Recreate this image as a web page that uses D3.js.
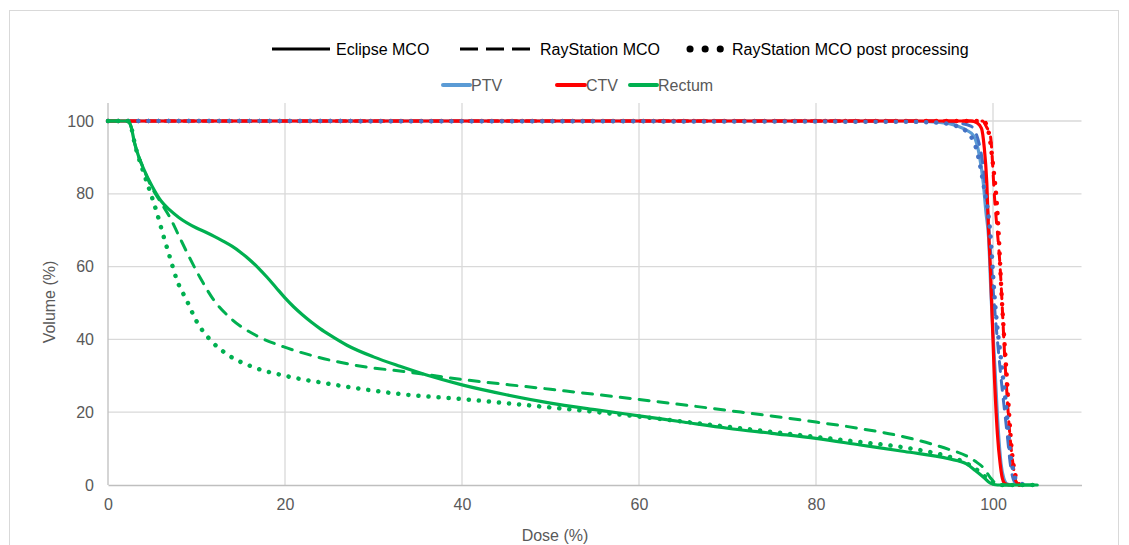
<!DOCTYPE html>
<html>
<head>
<meta charset="utf-8">
<script src="https://cdn.jsdelivr.net/npm/d3@7"></script>
<style>
  body { margin: 0; background: #fff; }
  text { font-family: "Liberation Sans", Arial, sans-serif; }
</style>
</head>
<body>
<div id="chart"></div>
<script>
// dose (%) , volume (%) pairs
let ptvEclipse = [[0,100],[90,100],[94,99.6],[96,98.6],[97,97.5],[97.8,96],[98.5,90],[98.9,83],[99.2,75],[99.5,68],[99.8,51],[100.2,33],[100.6,15],[100.9,6],[101.2,2],[101.6,0.3],[102.2,0]]
let ctvEclipse = [[0,100],[97.5,100],[98.2,99.5],[98.7,98],[99,93],[99.3,83],[99.5,70],[99.7,60],[100.1,33],[100.5,14],[100.8,6],[101,2.5],[101.3,0.5],[101.8,0]]
let rectumEclipse = [[0,100],[2.2,100],[2.6,98.5],[3,94],[3.5,90],[4,87],[5,82],[6,78],[7,75.5],[8,73.5],[10,70.6],[11,69.5],[12,68.3],[13,67],[14,65.6],[15,63.9],[16,61.9],[17,59.6],[18,57],[19,54.2],[20,51.4],[21,48.9],[22,46.7],[23,44.7],[24,42.9],[25,41.3],[27,38.4],[30,35.2],[33,32.6],[36,30.2],[40,27.5],[45,24.8],[50,22.5],[55,20.7],[60,19],[65,17.3],[70,15.6],[75,14.2],[80,12.8],[85,11],[90,9.2],[95,7.2],[97,5.8],[98,4],[99,2],[99.7,0.5],[100.5,0],[105,0]]

let ptvRay = [[0,100],[94,100],[96,99.5],[97.5,98.6],[98.6,92],[99.3,78],[100.1,51],[100.8,32],[101.6,14],[102,5],[102.4,1],[103,0]]
let ctvRay = [[0,100],[98.8,100],[99.3,98.2],[99.7,96],[100.2,78],[100.8,60],[101.4,32],[101.9,14],[102.3,5],[102.6,1],[103,0]]
let rectumRay = [[0,100],[2.2,100],[2.6,98.5],[3,94],[4,87],[5,81.5],[6,77.5],[7,73.5],[8,68.5],[9,63.5],[10.4,57],[11.9,51],[14,45.5],[16.8,41],[19.8,38],[23.6,35.2],[29.2,32.4],[33,31.3],[40,29],[50,26.3],[60,23.5],[70,20.5],[80,17.3],[85,15.5],[90,13.2],[93,11.3],[95,9.8],[97,8],[98,6.5],[99,4.5],[99.7,2],[100.3,0.5],[101,0],[105,0]]

let ptvPost = [[0,100],[90,99.8],[94,99.5],[96.3,98.2],[97.8,94.5],[98.9,83],[99.7,69],[100.2,51],[101,32.4],[101.6,18.7],[101.9,9.6],[102.3,4],[102.6,1.4],[103.6,0]]
let ctvPost = [[0,100],[98.9,100],[99.5,97],[100,88],[100.5,75],[101,51],[101.6,28],[102.1,10],[102.5,3],[103,0]]
let rectumPost = [[0,100],[2.2,100],[2.6,98.5],[3,94],[4,86],[4.7,81],[5.5,75],[6.2,69],[7,62.5],[7.8,56.2],[8.9,50.7],[10,45],[11.5,40],[13.4,36],[16.4,32.4],[20.2,29.9],[24.7,27.9],[29.2,26.2],[32.6,25.1],[40,23.6],[50,21.3],[60,18.8],[70,16],[80,13.2],[85,11.8],[90,10.3],[93,9],[95,7.8],[97,6],[98,4.5],[99,2.5],[99.7,1],[100.5,0],[105,0]]

let xTicks = [0, 20, 40, 60, 80, 100]
let yTicks = [0, 20, 40, 60, 80, 100]
let methods = ["Eclipse MCO", "RayStation MCO", "RayStation MCO post processing"]
let structures = ["PTV", "CTV", "Rectum"]

let width = 1129
let height = 545
let margin = { top: 103, right: 47, bottom: 60, left: 108 }

let colors = { PTV: '#5b9bd5', CTV: '#ff0000', Rectum: '#00b050' }
let darkBlue = '#4472c4'

// drawing order: blue dots end up on top of the red 100% line, rectum last
let series = [
  { s: "PTV", m: 0, data: ptvEclipse },
  { s: "PTV", m: 1, data: ptvRay },
  { s: "CTV", m: 0, data: ctvEclipse },
  { s: "CTV", m: 1, data: ctvRay },
  { s: "CTV", m: 2, data: ctvPost },
  { s: "PTV", m: 2, data: ptvPost },
  { s: "Rectum", m: 2, data: rectumPost },
  { s: "Rectum", m: 1, data: rectumRay },
  { s: "Rectum", m: 0, data: rectumEclipse }
]

let x = d3.scaleLinear()
    .domain([0, 110])
    .range([margin.left, width - margin.right - 0.5])

let y = d3.scaleLinear()
    .domain([0, 100])
    .range([485, 121])

let svg = d3.select('#chart')
    .append('svg')
    .attr('width', width)
    .attr('height', height)

// chart border
svg.append('rect')
    .attr('x', 9.5).attr('y', 10.5)
    .attr('width', 1109).attr('height', 545)
    .attr('fill', 'none')
    .attr('stroke', '#d9d9d9')

// grid
svg.append('g').selectAll('line.h')
    .data(yTicks.filter(d => d > 0))
    .join('line')
    .attr('x1', x(0)).attr('x2', x(110))
    .attr('y1', d => y(d)).attr('y2', d => y(d))
    .attr('stroke', '#d9d9d9').attr('stroke-width', 1.3)

svg.append('g').selectAll('line.v')
    .data(xTicks.filter(d => d > 0))
    .join('line')
    .attr('x1', d => x(d)).attr('x2', d => x(d))
    .attr('y1', margin.top).attr('y2', y(0))
    .attr('stroke', '#d9d9d9').attr('stroke-width', 1.3)

// axes
let xAxis = d3.axisBottom(x).tickValues(xTicks).tickSize(0).tickPadding(14)
let yAxis = d3.axisLeft(y).tickValues(yTicks).tickSize(0).tickPadding(14)

let gx = svg.append('g')
    .attr('transform', `translate(0,${y(0)})`)
    .call(xAxis)
gx.select('.domain').attr('stroke', '#bfbfbf').attr('stroke-width', 1.5)
gx.selectAll('text').attr('font-size', 16).attr('fill', '#595959')
    .attr('font-family', 'Liberation Sans, Arial, sans-serif')

let gy = svg.append('g')
    .attr('transform', `translate(${x(0)},0)`)
    .call(yAxis)
gy.select('.domain').attr('d', `M0,${margin.top}V${y(0)}`).attr('stroke', '#bfbfbf').attr('stroke-width', 1.3)
gy.selectAll('text').attr('font-size', 16).attr('fill', '#595959')
    .attr('font-family', 'Liberation Sans, Arial, sans-serif')

svg.append('text')
    .attr('x', 555).attr('y', 541)
    .attr('text-anchor', 'middle')
    .attr('font-size', 16).attr('fill', '#595959')
    .text('Dose (%)')

svg.append('text')
    .attr('transform', 'translate(55,302) rotate(-90)')
    .attr('text-anchor', 'middle')
    .attr('font-size', 16).attr('fill', '#595959')
    .text('Volume (%)')

// curves
let line = d3.line()
    .x(d => x(d[0]))
    .y(d => y(d[1]))
    .curve(d3.curveMonotoneX)

let styleOf = (d) => {
  if (d.m === 0) return { dash: null, cap: 'round', w: 3.2, c: colors[d.s] }
  if (d.m === 1) return { dash: '10 9', cap: 'round', w: 3, c: d.s === 'PTV' ? darkBlue : colors[d.s] }
  return { dash: '0.1 10', cap: 'round', w: 4.5, c: d.s === 'PTV' ? darkBlue : colors[d.s] }
}

svg.append('g').selectAll('path')
    .data(series)
    .join('path')
    .attr('d', d => line(d.data))
    .attr('fill', 'none')
    .attr('stroke', d => styleOf(d).c)
    .attr('stroke-width', d => styleOf(d).w)
    .attr('stroke-dasharray', d => styleOf(d).dash)
    .attr('stroke-linecap', d => styleOf(d).cap)
    .attr('stroke-linejoin', 'round')

// legend: line styles
let legend1 = [
  { name: methods[0], x1: 272, x2: 330, tx: 336, dash: null, cap: 'butt', w: 3 },
  { name: methods[1], x1: 460, x2: 532, tx: 540, dash: '18 8', cap: 'butt', w: 3 },
  { name: methods[2], x1: 690, x2: 721, tx: 732, dash: '0.1 15', cap: 'round', w: 7 }
]
let lg1 = svg.append('g').selectAll('g').data(legend1).join('g')
lg1.append('line')
    .attr('x1', d => d.x1).attr('x2', d => d.x2)
    .attr('y1', 49).attr('y2', 49)
    .attr('stroke', '#000')
    .attr('stroke-width', d => d.w)
    .attr('stroke-dasharray', d => d.dash)
    .attr('stroke-linecap', d => d.cap)
lg1.append('text')
    .attr('x', d => d.tx).attr('y', 55)
    .attr('font-size', 16).attr('fill', '#000')
    .text(d => d.name)

// legend: structures
let legend2 = [
  { name: structures[0], x1: 443, x2: 470 },
  { name: structures[1], x1: 557, x2: 585 },
  { name: structures[2], x1: 630, x2: 657 }
]
let lg2 = svg.append('g').selectAll('g').data(legend2).join('g')
lg2.append('line')
    .attr('x1', d => d.x1).attr('x2', d => d.x2)
    .attr('y1', 85).attr('y2', 85)
    .attr('stroke', d => colors[d.name])
    .attr('stroke-width', 4)
    .attr('stroke-linecap', 'round')
lg2.append('text')
    .attr('x', d => d.x2 + 1).attr('y', 91)
    .attr('font-size', 16).attr('fill', '#595959')
    .text(d => d.name)
</script>
</body>
</html>
